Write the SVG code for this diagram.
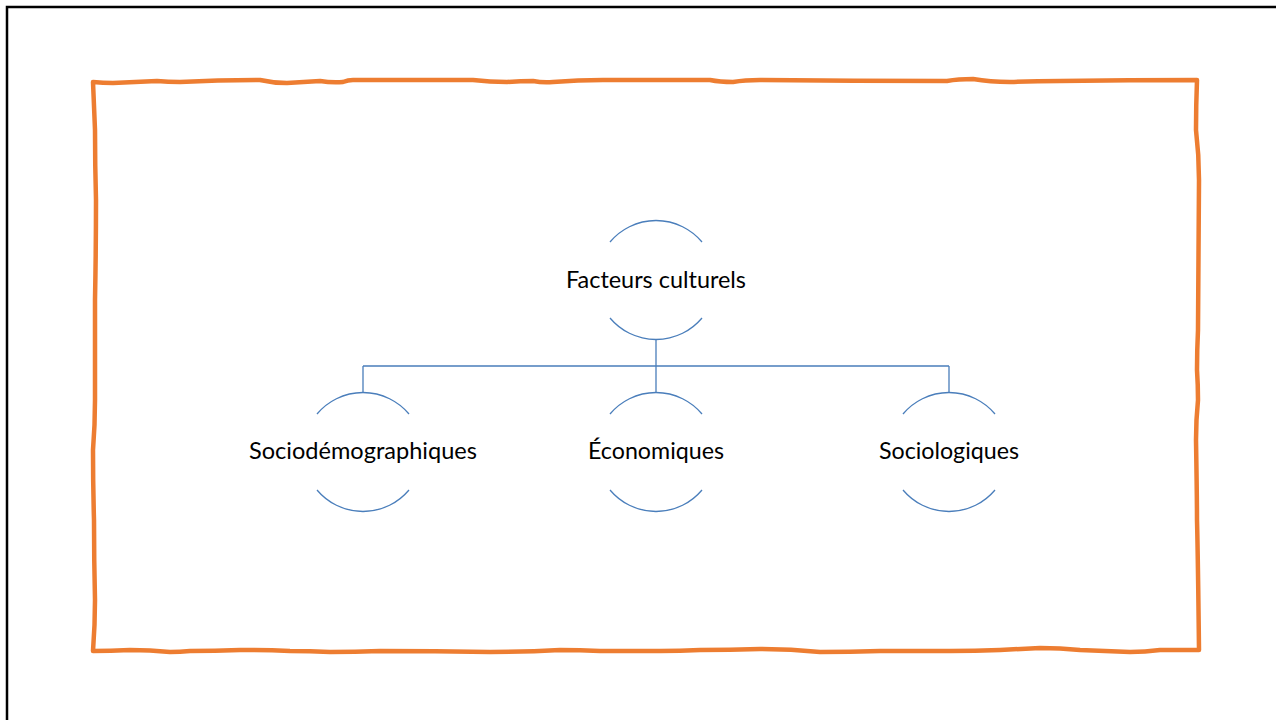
<svg xmlns="http://www.w3.org/2000/svg" width="1276" height="720" viewBox="0 0 1276 720">
<style>
.frame{fill:none;stroke:#000;stroke-width:2.5}
.border{fill:none;stroke:#ED7D31;stroke-width:4.5;stroke-linejoin:round;stroke-linecap:round}
.arc{fill:none;stroke:#4A7EBB;stroke-width:1.3}
.conn{fill:none;stroke:#4A7EBB;stroke-width:1.3}
.lbl{font-family:Lato,"Liberation Sans",sans-serif;font-size:24px;fill:#000;text-anchor:middle}
</style>
<rect width="1276" height="720" fill="#fff"/>
<rect class="frame" x="7" y="7" width="1300" height="800"/>
<path class="border" d="M93,82 Q103,83 113,83 Q135,82 157,81 Q168,82 180,82 Q220,80 260,80 Q273,83 287,83 Q303,82 320,81 Q332,83 343,82 Q348,80 353,80 Q413,80 473,80 Q490,82 507,82 Q520,81 533,81 Q543,83 553,82 Q578,80 603,80 Q656,80 710,80 Q720,82 733,82 Q745,80 760,80 Q853,81 947,81 Q958,79 973,79 Q990,82 1010,82 Q1035,81 1060,81 Q1130,80 1197,80 Q1196,105 1196,130 Q1199,155 1199,180 Q1198,280 1198,330 Q1197,350 1197,370 Q1198,385 1198,400 Q1196,420 1196,440 Q1197,500 1197,520 Q1198,560 1199,650 Q1180,650 1160,650 Q1145,652 1130,652 Q1105,651 1080,650 Q1060,648 1040,648 Q1020,649 1000,650 Q975,651 950,651 Q915,651 880,651 Q850,652 820,652 Q790,649 760,649 Q730,650 700,650 Q680,651 660,651 Q630,651 600,651 Q580,650 560,650 Q525,652 490,652 Q435,651 380,651 Q355,652 330,652 Q310,651 290,651 Q265,650 240,650 Q215,651 190,651 Q180,652 170,652 Q150,650 130,650 Q110,651 93,651 Q95,625 95,600 Q94,560 94,520 Q93,485 93,450 Q95,425 95,400 Q95,350 95,300 Q96,250 96,200 Q95,165 95,130 Q94,106 93,82 Z"/>
<g id="connectors">
<path class="conn" d="M656,340 V366 M363,366 H949 M363,366 V392 M656,366 V392 M949,366 V392"/>
</g>
<g id="node-root">
<path class="arc" d="M610,242 A60,60 0 0 1 702,242 M610,318 A60,60 0 0 0 702,318"/>
<text class="lbl" x="656" y="288" textLength="180" lengthAdjust="spacingAndGlyphs">Facteurs culturels</text>
</g>
<g id="node-socio-demo">
<path class="arc" d="M317,414 A60,60 0 0 1 409,414 M317,490 A60,60 0 0 0 409,490"/>
<text class="lbl" x="363" y="459" textLength="228" lengthAdjust="spacingAndGlyphs">Sociodémographiques</text>
</g>
<g id="node-eco">
<path class="arc" d="M610,414 A60,60 0 0 1 702,414 M610,490 A60,60 0 0 0 702,490"/>
<text class="lbl" x="656" y="459" textLength="136" lengthAdjust="spacingAndGlyphs">Économiques</text>
</g>
<g id="node-socio">
<path class="arc" d="M903,414 A60,60 0 0 1 995,414 M903,490 A60,60 0 0 0 995,490"/>
<text class="lbl" x="949" y="459" textLength="140" lengthAdjust="spacingAndGlyphs">Sociologiques</text>
</g>
</svg>
